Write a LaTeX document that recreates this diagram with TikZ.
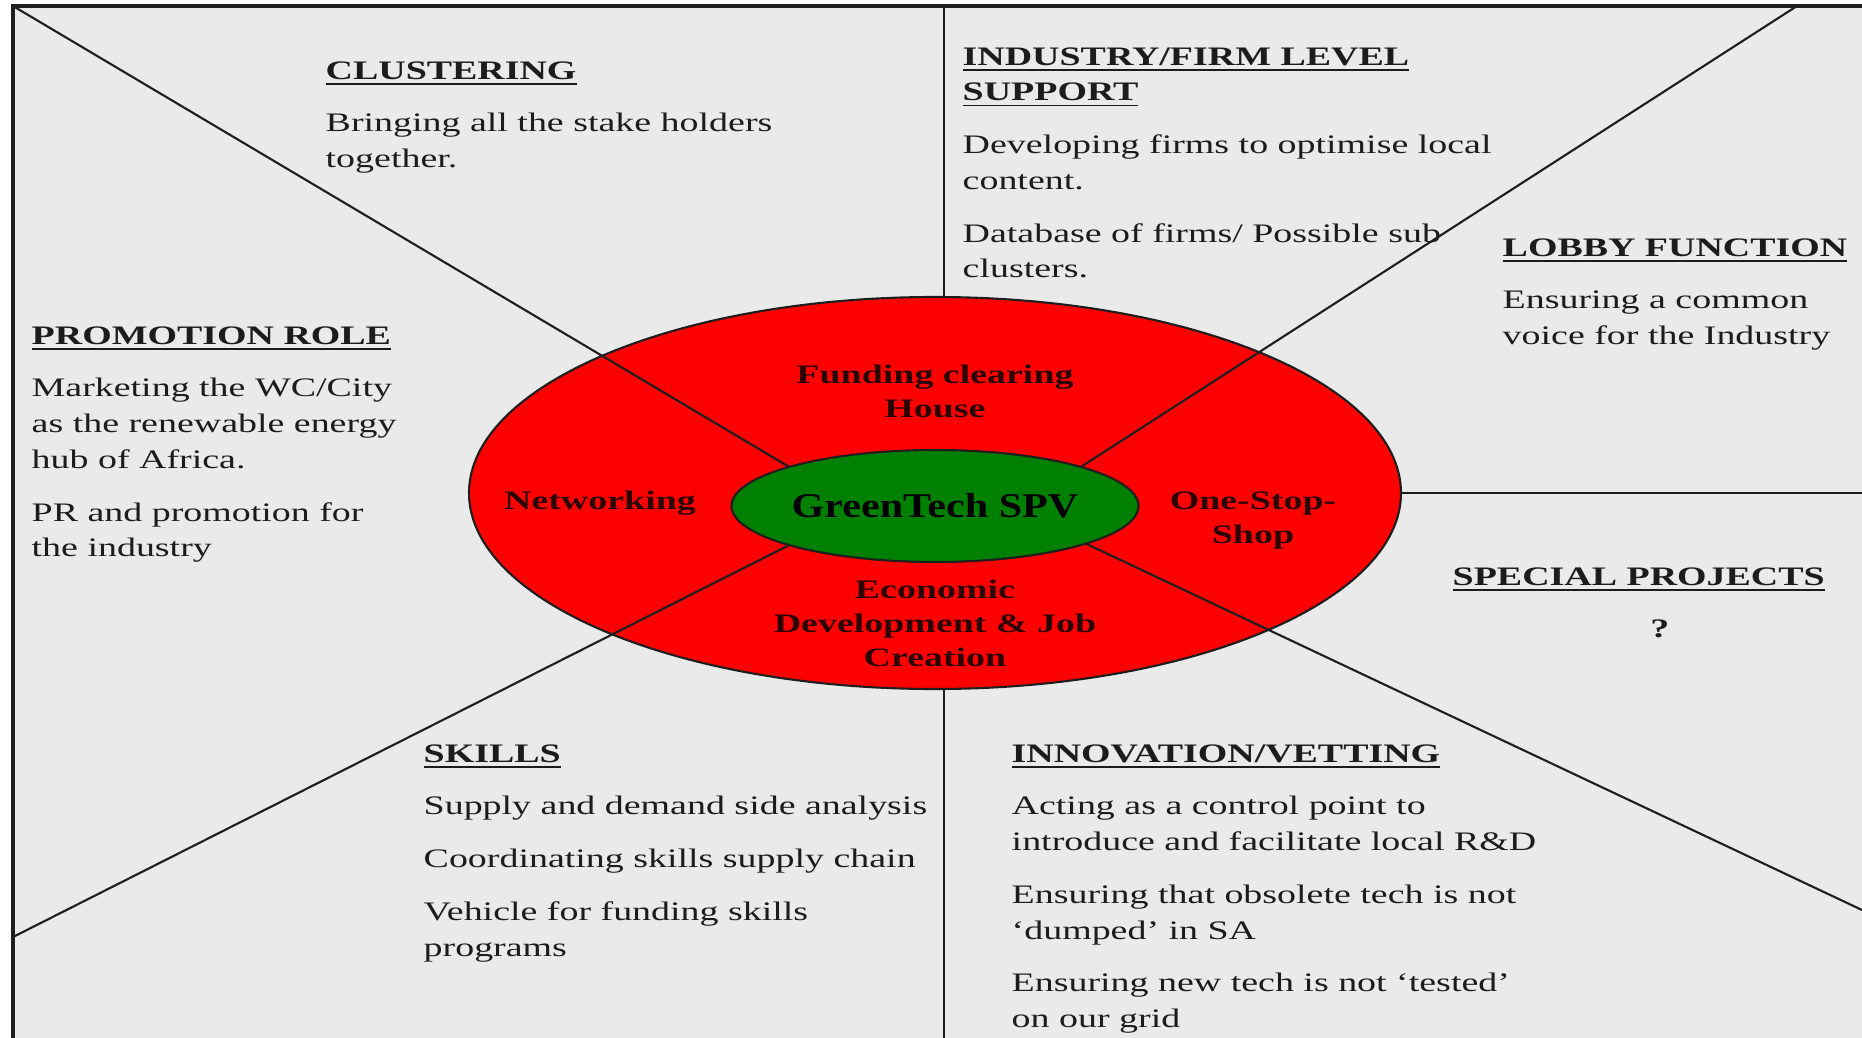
\documentclass[tikz,border=0pt]{standalone}
\usepackage{fontspec}
\setmainfont{Liberation Serif}
\usepackage{graphicx}
\usepackage{tikz}
\usetikzlibrary{shapes.geometric}

\definecolor{panelgray}{RGB}{234,234,234}
\definecolor{hubred}{RGB}{255,0,0}
\definecolor{hubgreen}{RGB}{0,128,0}
\definecolor{inktext}{RGB}{28,28,28}
\definecolor{hubink}{RGB}{45,0,0}
\definecolor{rule}{RGB}{30,30,30}

\newcommand{\bodyfont}{\fontsize{7.6}{10.2}\selectfont}
\newcommand{\ringfont}{\fontsize{7.6}{9.7}\selectfont\bfseries}
\newcommand{\hubfont}{\fontsize{9.9}{11}\selectfont\bfseries}
\newcommand{\hd}[1]{\underline{\smash{\textbf{#1}}}}
\newcommand{\wide}[1]{\scalebox{1.42}[1]{\begin{tabular}[t]{@{}l@{}}#1\end{tabular}}}
\newcommand{\widec}[1]{\scalebox{1.42}[1]{\begin{tabular}[t]{@{}c@{}}#1\end{tabular}}}

\begin{document}
\begin{tikzpicture}[
      x=0.1mm, y=-0.1mm,
      outline/.style={draw=rule, line width=1pt},
      divider/.style={draw=rule, line width=0.6pt},
      hubring/.style={ellipse, draw=rule, line width=0.6pt, fill=hubred, minimum width=9.32cm, minimum height=3.92cm, inner sep=0pt, outer sep=0pt},
      core/.style={ellipse, draw=rule, line width=0.6pt, fill=hubgreen, minimum width=4.07cm, minimum height=1.12cm, inner sep=0pt, outer sep=0pt, font=\hubfont, text=black},
      block/.style={anchor=base west, inner sep=0pt, font=\bodyfont, text=inktext},
      ringlabel/.style={anchor=base, inner sep=0pt, font=\ringfont, text=hubink}
    ]
    \useasboundingbox (0,0) rectangle (1862,1038);
    \fill[white] (0,0) rectangle (1862,1038);
    \fill[panelgray] (13,6) rectangle (1862,1038);

    \coordinate (tl) at (13,6);
    \coordinate (tr) at (1797,6);
    \coordinate (bl) at (13,937);
    \coordinate (br) at (1862,910);
    \coordinate (vt) at (944,6);
    \coordinate (vb) at (944,1038);
    \coordinate (re) at (1862,493);
    \draw[outline] (13,1038) -- (tl) -- (1862,6);

    \node (hub)[hubring] at (935,493) {};
    \node (spv)[core] at (935,506) {\scalebox{1.21}[1]{GreenTech SPV}};

    \draw[divider] (vt) -- (vt |- hub.north);
    \draw[divider] (hub.south -| vb) -- (vb);
    \draw[divider] (hub.east) -- (hub.east -| re);
    \draw[divider] (tl) -- (spv.165);
    \draw[divider] (tr) -- (spv.15);
    \draw[divider] (bl) -- (spv.195);
    \draw[divider] (br) -- (spv.346);

    \node (fch)[ringlabel] at (935,383) {\widec{Funding clearing\\ House}};
    \node (net)[ringlabel] at (600,509) {\widec{Networking}};
    \node (oss)[ringlabel] at (1253,509) {\widec{One-Stop-\\ Shop}};
    \node (edj)[ringlabel] at (935,598) {\widec{Economic\\ Development \& Job\\ Creation}};

    \node (clu)[block] at (325,79) {\wide{\hd{CLUSTERING}\\[4.8pt]
      Bringing all the stake holders\\ together.}};
    \node (ind)[block] at (962,65) {\wide{\hd{INDUSTRY/FIRM LEVEL}\\ \hd{SUPPORT}\\[4.8pt]
      Developing firms to optimise local\\ content.\\[4.8pt]
      Database of firms/ Possible sub\\ clusters.}};
    \node (lob)[block] at (1502,256) {\wide{\hd{LOBBY FUNCTION}\\[4.8pt]
      Ensuring a common\\ voice for the Industry}};
    \node (pro)[block] at (31,344) {\wide{\hd{PROMOTION ROLE}\\[4.8pt]
      Marketing the WC/City\\ as the renewable energy\\ hub of Africa.\\[4.8pt]
      PR and promotion for\\ the industry}};
    \node (spe)[block] at (1452,585) {\wide{\hd{SPECIAL PROJECTS}\\[4.8pt]
      \hspace*{39.6pt}\textbf{?}}};
    \node (ski)[block] at (423,762) {\wide{\hd{SKILLS}\\[4.8pt]
      Supply and demand side analysis\\[4.8pt]
      Coordinating skills supply chain\\[4.8pt]
      Vehicle for funding skills\\ programs}};
    \node (inn)[block] at (1011,762) {\wide{\hd{INNOVATION/VETTING}\\[4.8pt]
      Acting as a control point to\\ introduce and facilitate local R\&D\\[4.8pt]
      Ensuring that obsolete tech is not\\ `dumped' in SA\\[4.8pt]
      Ensuring new tech is not `tested'\\ on our grid}};
    \end{tikzpicture}
\end{document}
